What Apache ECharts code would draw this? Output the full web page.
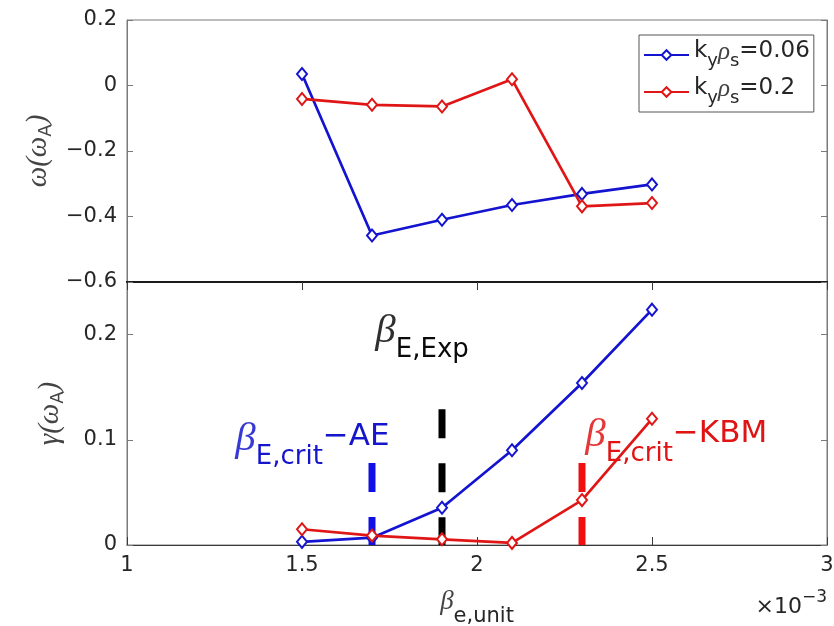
<!DOCTYPE html>
<html><head><meta charset="utf-8">
<script src="https://cdn.jsdelivr.net/npm/echarts@6/dist/echarts.min.js"></script>
<style>html,body{margin:0;padding:0;background:#fff}#c{width:834px;height:626px}</style>
</head><body><div id="c"></div>
<script>
// ---- data ----
const betaX = [1.5, 1.7, 1.9, 2.1, 2.3, 2.5];
const omegaBlue = [0.035, -0.458, -0.41, -0.365, -0.331, -0.302];
const omegaRed = [-0.041, -0.059, -0.064, 0.019, -0.369, -0.359];
const gammaBlue = [0.003, 0.007, 0.0354, 0.090, 0.154, 0.2237];
const gammaRed = [0.015, 0.009, 0.0054, 0.002, 0.0427, 0.120];
const seriesNames = ['ky=0.06', 'ky=0.2'];
const legendValues = ['0.06', '0.2'];
const critX = [1.7, 1.9, 2.3];
const critTop = [0.078, 0.129, 0.078];
const annotX = [1.711, 1.311, 2.311];
const annotY = [0.222, 0.120, 0.123];
const annotSub = ['E,Exp', 'E,crit', 'E,crit'];
const annotTail = ['', '−AE', '−KBM'];

// ---- styles ----
const BLUE = '#1414d0', RED = '#e01616';
const critColors = ['#1010e6', '#000000', '#f01010'];
const annotColors = ['#0a0a0a', '#1515cc', '#e01414'];
const TXT = '#262626', AX = '#7a7a7a';
const tickFmt = v => (v < -1e-9 ? '−' : '') + String(Math.abs(+(+v).toFixed(3)));
const labelFont = { fontFamily: 'DejaVu Sans', fontSize: 21, color: TXT };

const chart = echarts.init(document.getElementById('c'), null, { renderer: 'canvas' });

const xBase = { type: 'value', min: 1, max: 3, interval: 0.5, splitLine: { show: false } };

const series = [];
critX.forEach((x, i) => {
  series.push({
    type: 'line', xAxisIndex: 1, yAxisIndex: 2, data: [[x, critTop[i]], [x, 0]],
    symbol: 'none', silent: true, z: 1,
    lineStyle: { color: critColors[i], width: 7, type: [29, 25], cap: 'butt' }
  });
});
const mkLine = (name, ys, color, xi, yi) => ({
  name, type: 'line', xAxisIndex: xi, yAxisIndex: yi,
  data: betaX.map((x, i) => [x, ys[i]]),
  symbol: 'emptyDiamond', symbolSize: [10, 12], z: 3,
  lineStyle: { color, width: 2.7 }, itemStyle: { color, borderColor: color, borderWidth: 2 }
});
series.push(mkLine(seriesNames[0], omegaBlue, BLUE, 0, 0));
series.push(mkLine(seriesNames[1], omegaRed, RED, 0, 0));
series.push(mkLine(seriesNames[0], gammaBlue, BLUE, 1, 2));
series.push(mkLine(seriesNames[1], gammaRed, RED, 1, 2));

series.push({
  type: 'scatter', xAxisIndex: 1, yAxisIndex: 2, symbolSize: 1, silent: true, z: 5,
  itemStyle: { color: 'rgba(0,0,0,0)', opacity: 1 },
  data: annotX.map((x, i) => ({
    value: [x, annotY[i]],
    label: {
      show: true, opacity: 1, position: [0, 0], align: 'left', verticalAlign: 'top',
      formatter: '{b|β}{s|' + annotSub[i] + '}' + (annotTail[i] ? '{m|' + annotTail[i] + '}' : ''),
      rich: {
        b: { fontFamily: 'Liberation Serif', fontStyle: 'italic', fontSize: 41, lineHeight: 34, verticalAlign: 'top', color: annotColors[i], opacity: 0.85 },
        s: { fontFamily: 'DejaVu Sans', fontSize: 26, padding: [26, 0, 0, 0], verticalAlign: 'top', color: annotColors[i] },
        m: { fontFamily: 'DejaVu Sans', fontSize: 31, padding: [3, 0, 0, 0], verticalAlign: 'top', color: annotColors[i] }
      }
    }
  }))
});

chart.setOption({
  animation: false,
  backgroundColor: '#fff',
  grid: [
    { left: 127, right: 7, top: 20, height: 262, outerBoundsMode: 'none', show: true, borderColor: AX, borderWidth: 1, backgroundColor: 'transparent' },
    { left: 127, right: 7, top: 282, height: 263, outerBoundsMode: 'none', show: true, borderColor: AX, borderWidth: 1, backgroundColor: 'transparent' }
  ],
  xAxis: [
    Object.assign({}, xBase, { gridIndex: 0, position: 'bottom', axisLine: { show: true, onZero: false, lineStyle: { color: '#1a1a1a', width: 2 } }, axisTick: { show: false }, axisLabel: { show: false } }),
    Object.assign({}, xBase, {
      gridIndex: 1, position: 'bottom',
      axisLine: { show: true, onZero: false, lineStyle: { color: '#3a3a3a', width: 1.2 } },
      axisTick: { show: true, inside: true, length: 8, lineStyle: { color: '#3a3a3a' } },
      axisLabel: Object.assign({ margin: 10, formatter: tickFmt }, labelFont),
      name: '{b|β}{s|e,unit}', nameLocation: 'middle', nameGap: 43,
      nameTextStyle: { rich: {
        b: { fontFamily: 'Liberation Serif', fontStyle: 'italic', fontSize: 27, lineHeight: 24, verticalAlign: 'top', color: '#444' },
        s: { fontFamily: 'DejaVu Sans', fontSize: 21, padding: [18, 0, 0, 0], verticalAlign: 'top', color: TXT }
      } }
    }),
    Object.assign({}, xBase, {
      gridIndex: 1, position: 'top',
      axisLine: { show: true, onZero: false, lineStyle: { color: '#1a1a1a', width: 2 } },
      axisTick: { show: true, inside: true, length: 8, lineStyle: { color: '#3a3a3a' } },
      axisLabel: { show: false }
    })
  ],
  yAxis: [
    {
      type: 'value', gridIndex: 0, min: -0.6, max: 0.2, interval: 0.2, position: 'left',
      splitLine: { show: false },
      axisLine: { show: true, onZero: false, lineStyle: { color: AX, width: 1 } },
      axisTick: { show: true, inside: true, length: 6, lineStyle: { color: AX } },
      axisLabel: Object.assign({ margin: 10, formatter: tickFmt }, labelFont),
      name: '{w|ω(ω}{a|A}{w|)}', nameLocation: 'middle', nameRotate: 90, nameGap: 68,
      nameTextStyle: { rich: {
        w: { fontFamily: 'Liberation Serif', fontStyle: 'italic', fontSize: 29, lineHeight: 26, verticalAlign: 'top', color: '#444' },
        a: { fontFamily: 'DejaVu Sans', fontSize: 18, padding: [13, 0, 0, 0], verticalAlign: 'top', color: '#444' }
      } }
    },
    {
      type: 'value', gridIndex: 0, min: -0.6, max: 0.2, interval: 0.2, position: 'right',
      splitLine: { show: false }, axisLine: { show: true, onZero: false, lineStyle: { color: AX } },
      axisTick: { show: true, inside: true, length: 6, lineStyle: { color: AX } }, axisLabel: { show: false }
    },
    {
      type: 'value', gridIndex: 1, min: 0, max: 0.25, interval: 0.1, position: 'left',
      splitLine: { show: false },
      axisLine: { show: true, onZero: false, lineStyle: { color: AX, width: 1 } },
      axisTick: { show: true, inside: true, length: 6, lineStyle: { color: AX } },
      axisLabel: Object.assign({ margin: 10, formatter: tickFmt, showMaxLabel: false }, labelFont),
      name: '{w|γ(ω}{a|A}{w|)}', nameLocation: 'middle', nameRotate: 90, nameGap: 60,
      nameTextStyle: { rich: {
        w: { fontFamily: 'Liberation Serif', fontStyle: 'italic', fontSize: 29, lineHeight: 26, verticalAlign: 'top', color: '#444' },
        a: { fontFamily: 'DejaVu Sans', fontSize: 18, padding: [13, 0, 0, 0], verticalAlign: 'top', color: '#444' }
      } }
    },
    {
      type: 'value', gridIndex: 1, min: 0, max: 0.25, interval: 0.1, position: 'right',
      splitLine: { show: false }, axisLine: { show: true, onZero: false, lineStyle: { color: AX } },
      axisTick: { show: true, inside: true, length: 6, lineStyle: { color: AX } }, axisLabel: { show: false }
    }
  ],
  legend: {
    data: seriesNames, orient: 'vertical', left: 639, top: 35,
    backgroundColor: '#fff', borderColor: '#555', borderWidth: 1,
    padding: [5, 4, 5, 4], itemWidth: 45, itemHeight: 12, itemGap: 7,
    formatter: name => '{n|k}{sub|y}{r|ρ}{sub|s}{n|=' + legendValues[seriesNames.indexOf(name)] + '}',
    textStyle: { rich: {
      n: { fontFamily: 'DejaVu Sans', fontSize: 23, lineHeight: 26, verticalAlign: 'top', color: TXT },
      r: { fontFamily: 'Liberation Serif', fontStyle: 'italic', fontSize: 25, lineHeight: 26, verticalAlign: 'top', color: '#444' },
      sub: { fontFamily: 'DejaVu Sans', fontSize: 18, padding: [12, 0, 0, 0], verticalAlign: 'top', color: TXT }
    } }
  },
  graphic: [{
    type: 'text', right: 7, top: 589, silent: true,
    style: {
      text: '{m|×10}{e|−3}',
      rich: {
        m: { fontFamily: 'DejaVu Sans', fontSize: 22, padding: [8, 0, 0, 0], verticalAlign: 'top', fill: TXT },
        e: { fontFamily: 'DejaVu Sans', fontSize: 17, padding: [1, 0, 0, 0], verticalAlign: 'top', fill: TXT }
      }
    }
  }],
  series
});
</script></body></html>
